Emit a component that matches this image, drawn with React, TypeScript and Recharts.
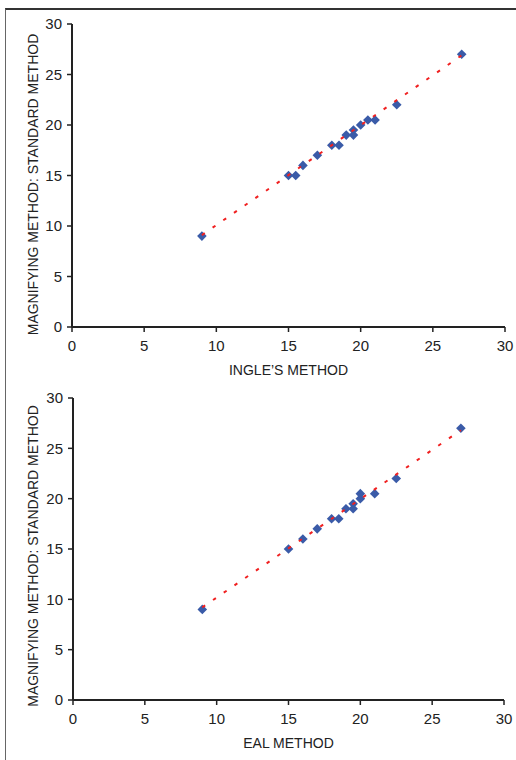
import React from 'react'
import { ScatterChart, Scatter, XAxis, YAxis, Label } from 'recharts'

const FONT = '"Liberation Sans", Arial, sans-serif'
const INK = '#222'
const BLUE = '#3a5ba8'
const RED = '#f02020'

const AXIS_TICKS = [0, 5, 10, 15, 20, 25, 30]
const Y_TITLE = 'MAGNIFYING METHOD: STANDARD METHOD'

// Ingle's method vs standard (magnifying) method
const ingleX = [9, 15, 15.5, 16, 17, 18, 18.5, 19, 19.5, 19.5, 20, 20.5, 21, 22.5, 27]
const ingleY = [9, 15, 15, 16, 17, 18, 18, 19, 19, 19.5, 20, 20.5, 20.5, 22, 27]
const ingleTrendX = [9, 27]
const ingleTrendY = [9.1, 26.9]

// EAL method vs standard (magnifying) method
const ealX = [9, 15, 16, 17, 18, 18.5, 19, 19.5, 19.5, 20, 20, 21, 22.5, 27]
const ealY = [9, 15, 16, 17, 18, 18, 19, 19, 19.5, 20, 20.5, 20.5, 22, 27]
const ealTrendX = [9, 27]
const ealTrendY = [9.2, 26.8]

const zip = (xs: number[], ys: number[]) => xs.map((x, i) => ({ x, y: ys[i] }))

function Diamond(props: any) {
  const { cx, cy } = props
  if (cx == null || cy == null) return null
  const r = 4.8
  return (
    <polygon
      points={`${cx},${cy - r} ${cx + r},${cy} ${cx},${cy + r} ${cx - r},${cy}`}
      fill={BLUE}
    />
  )
}

const NoDot = () => <g />

interface PanelProps {
  top: number
  points: { x: number; y: number }[]
  trend: { x: number; y: number }[]
  xTitle: string
  margin: { top: number; right: number; bottom: number; left: number }
  yWidth: number
  yTitleShift: number
}

function Panel({ top, points, trend, xTitle, margin, yWidth, yTitleShift }: PanelProps) {
  return (
    <div style={{ position: 'absolute', left: 0, top }}>
      <ScatterChart width={516} height={380} margin={margin}>
        <XAxis
          type="number"
          dataKey="x"
          domain={[0, 30]}
          ticks={AXIS_TICKS}
          height={30}
          tickSize={5}
          tickMargin={8}
          axisLine={{ stroke: INK, strokeWidth: 2 }}
          tickLine={{ stroke: INK, strokeWidth: 1.5 }}
          tick={{ fontSize: 15, fill: INK, fontFamily: FONT }}
        >
          <Label
            content={({ viewBox }: any) => (
              <text
                x={viewBox.x + viewBox.width / 2}
                y={viewBox.y + 48}
                textAnchor="middle"
                fontSize={14}
                fill={INK}
                fontFamily={FONT}
              >
                {xTitle}
              </text>
            )}
          />
        </XAxis>
        <YAxis
          type="number"
          dataKey="y"
          domain={[0, 30]}
          ticks={AXIS_TICKS}
          width={yWidth}
          tickSize={5}
          tickMargin={5}
          axisLine={{ stroke: INK, strokeWidth: 2 }}
          tickLine={{ stroke: INK, strokeWidth: 1.5 }}
          tick={{ fontSize: 15, fill: INK, fontFamily: FONT }}
        >
          <Label
            content={({ viewBox }: any) => {
              const x = viewBox.x + 38
              const y = viewBox.y + viewBox.height / 2 + yTitleShift
              return (
                <text
                  x={x}
                  y={y}
                  transform={`rotate(-90, ${x}, ${y})`}
                  textAnchor="middle"
                  fontSize={14}
                  fill={INK}
                  fontFamily={FONT}
                >
                  {Y_TITLE}
                </text>
              )
            }}
          />
        </YAxis>
        <Scatter data={points} shape={Diamond} isAnimationActive={false} />
        <Scatter
          data={trend}
          shape={NoDot}
          line={{ stroke: RED, strokeWidth: 2, strokeDasharray: '3.5 9.5' }}
          lineType="joint"
          isAnimationActive={false}
        />
      </ScatterChart>
    </div>
  )
}

export default function App() {
  return (
    <div
      style={{
        position: 'absolute',
        left: 0,
        top: 0,
        width: 516,
        height: 760,
        overflow: 'hidden',
        background: '#fff',
      }}
    >
      <div
        style={{
          position: 'absolute',
          left: 5,
          top: 8,
          width: 600,
          height: 800,
          borderTop: '2px solid #333',
          borderLeft: '1px solid #666',
        }}
      />
      <Panel
        top={0}
        points={zip(ingleX, ingleY)}
        trend={zip(ingleTrendX, ingleTrendY)}
        xTitle="INGLE’S METHOD"
        margin={{ top: 24, right: 11, bottom: 23, left: 0 }}
        yWidth={72}
        yTitleShift={9}
      />
      <Panel
        top={380}
        points={zip(ealX, ealY)}
        trend={zip(ealTrendX, ealTrendY)}
        xTitle="EAL METHOD"
        margin={{ top: 18, right: 12, bottom: 30, left: 0 }}
        yWidth={73}
        yTitleShift={7}
      />
    </div>
  )
}
